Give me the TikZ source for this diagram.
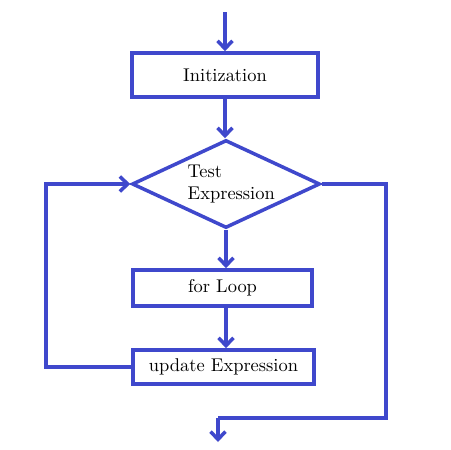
\documentclass[tikz,border=0pt]{standalone}
\usetikzlibrary{arrows.meta}
\usetikzlibrary{shapes.geometric}
\definecolor{paintblue}{RGB}{63,72,204}

\begin{document}
\begin{tikzpicture}[x=0.02cm, y=-0.02cm,
    flowline/.style={draw=paintblue, line width=2pt},
    flowarrow/.style={flowline, -{Straight Barb[length=4.5pt,width=8.5pt,line width=2pt]}},
    flowbox/.style={flowline, rectangle, inner sep=0pt, font=\fontsize{10.5}{13}\selectfont},
    flowtest/.style={flowline, diamond, aspect=2.14, inner sep=0pt, minimum width=3.76cm, minimum height=1.76cm, align=left, font=\fontsize{10.5}{13}\selectfont}]
\useasboundingbox (0,0) rectangle (450,450);
\fill[white] (0,0) rectangle (450,450);
\node[flowbox, minimum width=3.72cm, minimum height=0.88cm] (init) at (225,75) {Initization};
\node[flowtest] (test) at (226,184) {\hspace*{6pt}Test\\\hspace*{6pt}Expression};
\node[flowbox, minimum width=3.58cm, minimum height=0.72cm] (loop) at (222.5,288) {for Loop};
\node[flowbox, minimum width=3.62cm, minimum height=0.68cm] (upd) at (223.5,367) {update Expression};
\coordinate (entry) at (225,12);
\coordinate (lft) at (46,300);
\coordinate (rgt) at (386,418);
\coordinate (turn) at (218,418);
\coordinate (exit) at (218,442);
\draw[flowarrow] (entry) -- (init.north);
\draw[flowarrow] (init.south) -- (init.south |- test.north);
\draw[flowarrow] (test.south) -- (test.south |- loop.north);
\draw[flowarrow] (loop.south -| test.south) -- (test.south |- upd.north);
\draw[flowarrow] (upd.west) -| (lft) |- (test.west);
\draw[flowline] (test.east) -| (rgt) -- (turn);
\draw[flowarrow] (turn) -- (exit);
\end{tikzpicture}
\end{document}
